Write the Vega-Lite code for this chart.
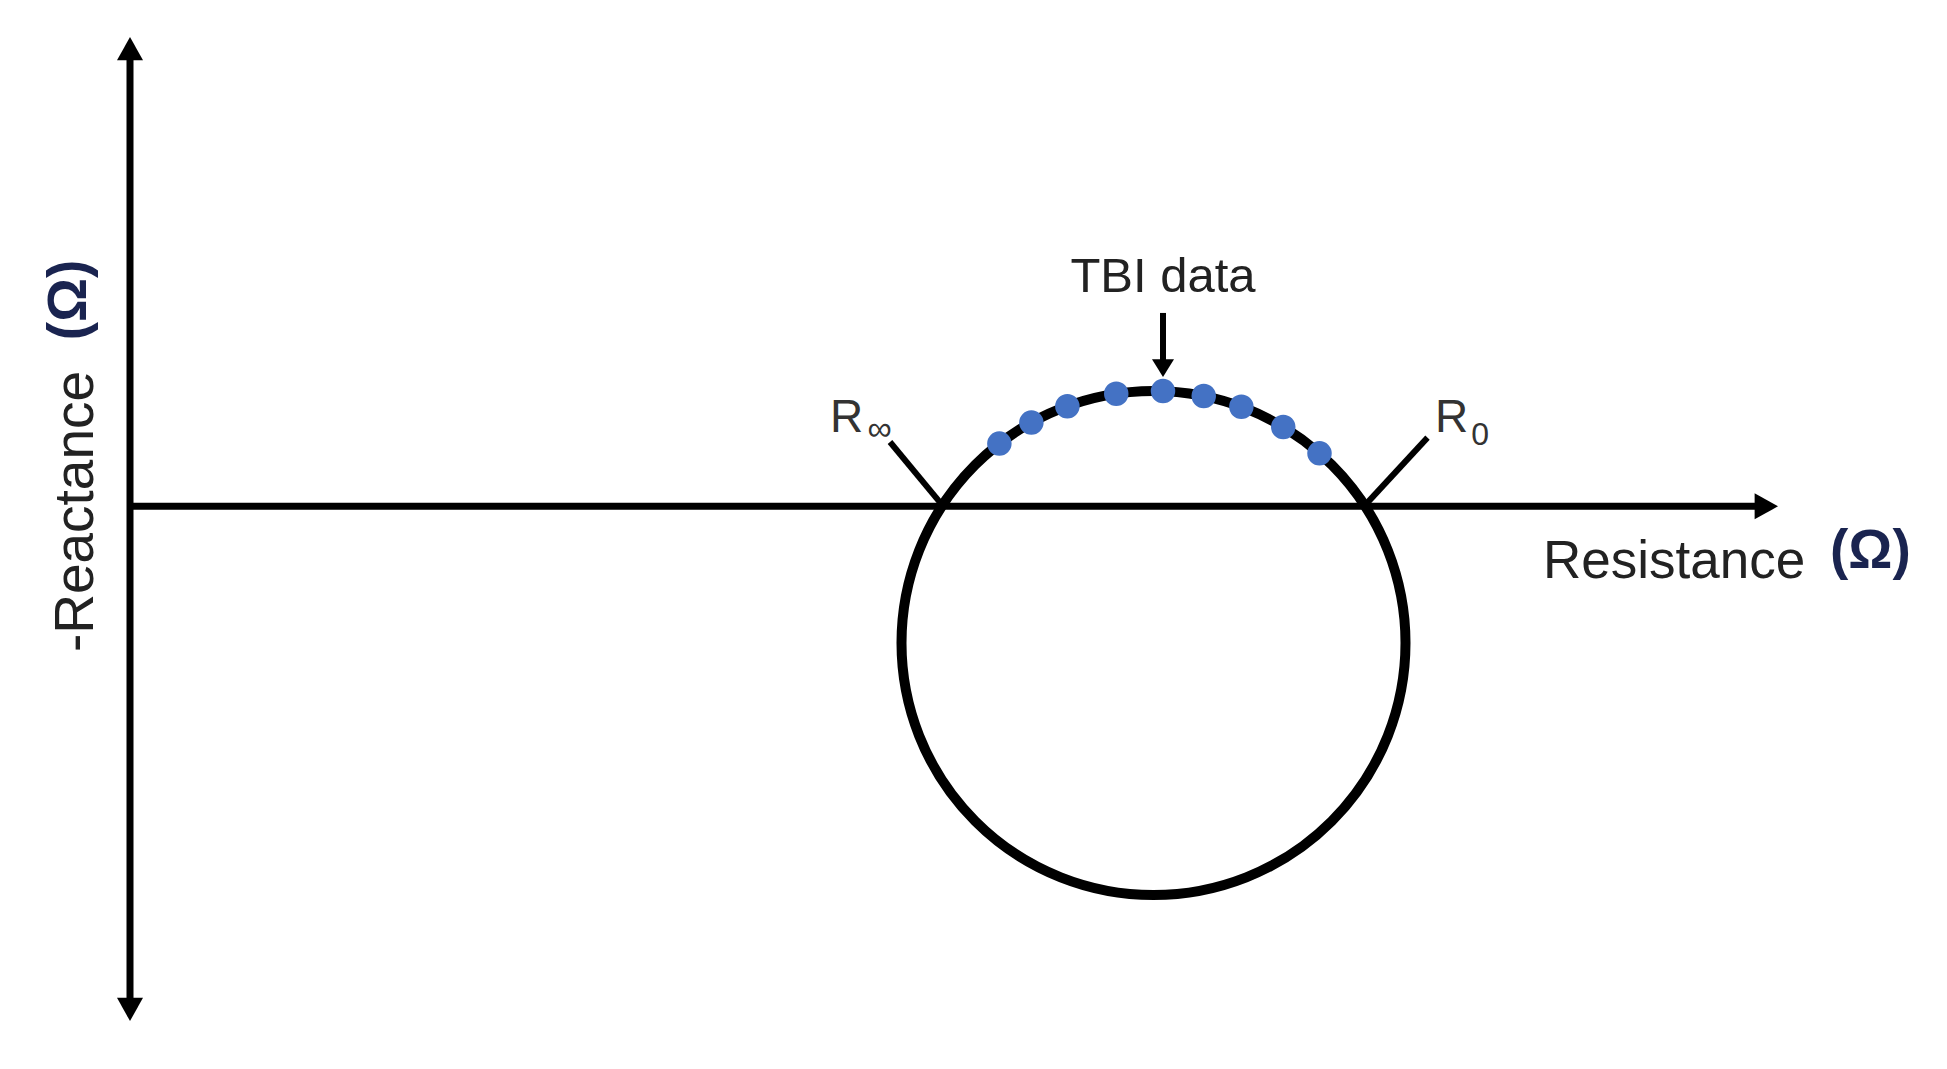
{
  "$schema": "https://vega.github.io/schema/vega-lite/v6.json",
  "width": 1947,
  "height": 1069,
  "padding": 0,
  "autosize": {"type": "none"},
  "background": "white",
  "config": {"view": {"stroke": null}},
  "datasets": {
    "axes": [
      {"name": "reactance", "x": 0, "y": -39.7, "x2": 0, "y2": 36.1},
      {"name": "resistance", "x": 0, "y": 0, "x2": 130.4, "y2": 0}
    ],
    "tips": [
      {"dir": "up", "x": 0, "y": 37.55},
      {"dir": "down", "x": 0, "y": -41.17},
      {"dir": "right", "x": 131.84, "y": 0}
    ],
    "circle": [{"x": 81.88, "y": -10.93}],
    "leaders": [
      {"name": "Rinf", "x": 60.8, "y": 5.15, "x2": 64.9, "y2": 0.2},
      {"name": "R0", "x": 103.8, "y": 5.5, "x2": 98.9, "y2": 0.2},
      {"name": "TBI", "x": 82.64, "y": 15.47, "x2": 82.64, "y2": 11.6}
    ],
    "tbiTip": [{"x": 82.64, "y": 10.35}],
    "tbi": [
      {"x": 69.55, "y": 5.02},
      {"x": 72.11, "y": 6.70},
      {"x": 74.99, "y": 8.01},
      {"x": 78.90, "y": 9.01},
      {"x": 82.64, "y": 9.22},
      {"x": 85.90, "y": 8.83},
      {"x": 88.91, "y": 7.97},
      {"x": 92.26, "y": 6.35},
      {"x": 95.16, "y": 4.24}
    ],
    "bigR": [
      {"x": 56.0, "y": 5.95, "label": "R"},
      {"x": 104.4, "y": 5.95, "label": "R"}
    ],
    "subInf": [{"x": 59.0, "y": 5.3, "label": "∞"}],
    "subZero": [{"x": 107.3, "y": 4.91, "label": "0"}],
    "tbiLabel": [{"x": 82.64, "y": 17.15, "label": "TBI data"}],
    "xTitle": [{"x": 113.04, "y": -5.73, "label": "Resistance"}],
    "xUnit": [{"x": 136.0, "y": -4.93, "label": "(Ω)"}],
    "yTitle": [{"x": -2.96, "y": -0.41, "label": "-Reactance"}],
    "yUnit": [{"x": -3.52, "y": 16.51, "label": "(Ω)"}]
  },
  "encoding": {
    "x": {"field": "x", "type": "quantitative", "scale": {"domain": [-10.4, 145.36], "nice": false, "zero": false}, "axis": null},
    "y": {"field": "y", "type": "quantitative", "scale": {"domain": [-45, 40.5], "nice": false, "zero": false}, "axis": null}
  },
  "layer": [
    {
      "data": {"name": "axes"},
      "mark": {"type": "rule", "color": "black", "strokeWidth": 7},
      "encoding": {"x2": {"field": "x2"}, "y2": {"field": "y2"}}
    },
    {
      "data": {"name": "tips"},
      "transform": [{"filter": "datum.dir === 'up'"}],
      "mark": {"type": "point", "shape": "M0,0L1,1.8L-1,1.8Z", "size": 676, "filled": true, "color": "black", "opacity": 1, "strokeWidth": 0}
    },
    {
      "data": {"name": "tips"},
      "transform": [{"filter": "datum.dir === 'down'"}],
      "mark": {"type": "point", "shape": "M0,0L1,-1.8L-1,-1.8Z", "size": 676, "filled": true, "color": "black", "opacity": 1, "strokeWidth": 0}
    },
    {
      "data": {"name": "tips"},
      "transform": [{"filter": "datum.dir === 'right'"}],
      "mark": {"type": "point", "shape": "M0,0L-1.8,-1L-1.8,1Z", "size": 676, "filled": true, "color": "black", "opacity": 1, "strokeWidth": 0}
    },
    {
      "data": {"name": "circle"},
      "mark": {"type": "point", "shape": "circle", "size": 254016, "filled": false, "stroke": "black", "strokeWidth": 10, "opacity": 1}
    },
    {
      "data": {"name": "leaders"},
      "mark": {"type": "rule", "color": "black", "strokeWidth": 6},
      "encoding": {"x2": {"field": "x2"}, "y2": {"field": "y2"}}
    },
    {
      "data": {"name": "tbiTip"},
      "mark": {"type": "point", "shape": "M0,0L1,-1.6L-1,-1.6Z", "size": 484, "filled": true, "color": "black", "opacity": 1, "strokeWidth": 0}
    },
    {
      "data": {"name": "tbi"},
      "mark": {"type": "point", "shape": "circle", "size": 600, "filled": true, "color": "#4472C4", "opacity": 1, "strokeWidth": 0}
    },
    {
      "data": {"name": "bigR"},
      "mark": {"type": "text", "align": "left", "baseline": "alphabetic", "font": "Liberation Sans", "fontSize": 46, "color": "#333333"},
      "encoding": {"text": {"field": "label"}}
    },
    {
      "data": {"name": "subInf"},
      "mark": {"type": "text", "align": "left", "baseline": "alphabetic", "font": "Liberation Sans", "fontSize": 34, "color": "#333333"},
      "encoding": {"text": {"field": "label"}}
    },
    {
      "data": {"name": "subZero"},
      "mark": {"type": "text", "align": "left", "baseline": "alphabetic", "font": "Liberation Sans", "fontSize": 32, "color": "#333333"},
      "encoding": {"text": {"field": "label"}}
    },
    {
      "data": {"name": "tbiLabel"},
      "mark": {"type": "text", "align": "center", "baseline": "alphabetic", "font": "Liberation Sans", "fontSize": 49, "color": "#222222"},
      "encoding": {"text": {"field": "label"}}
    },
    {
      "data": {"name": "xTitle"},
      "mark": {"type": "text", "align": "left", "baseline": "alphabetic", "font": "Liberation Sans", "fontSize": 53, "color": "#222222"},
      "encoding": {"text": {"field": "label"}}
    },
    {
      "data": {"name": "xUnit"},
      "mark": {"type": "text", "align": "left", "baseline": "alphabetic", "font": "Liberation Sans", "fontSize": 55, "fontWeight": "bold", "color": "#1a2450"},
      "encoding": {"text": {"field": "label"}}
    },
    {
      "data": {"name": "yTitle"},
      "mark": {"type": "text", "align": "center", "baseline": "alphabetic", "angle": 270, "font": "Liberation Sans", "fontSize": 55, "color": "#222222"},
      "encoding": {"text": {"field": "label"}}
    },
    {
      "data": {"name": "yUnit"},
      "mark": {"type": "text", "align": "center", "baseline": "alphabetic", "angle": 270, "font": "Liberation Sans", "fontSize": 55, "fontWeight": "bold", "color": "#1a2450"},
      "encoding": {"text": {"field": "label"}}
    }
  ]
}
